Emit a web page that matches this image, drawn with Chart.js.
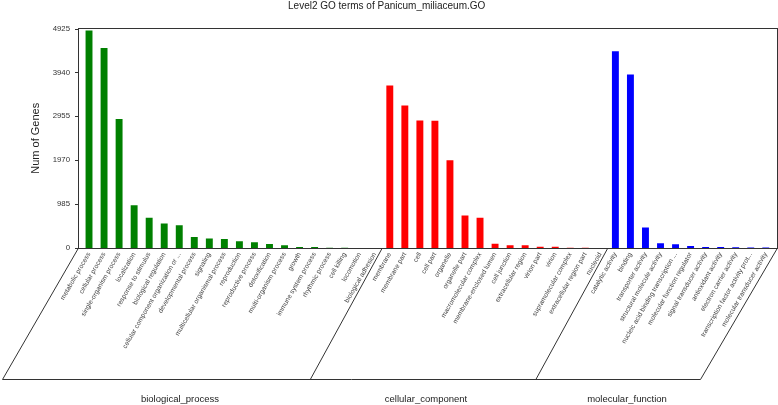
<!DOCTYPE html>
<html>
<head>
<meta charset="utf-8">
<title>Level2 GO terms of Panicum_miliaceum.GO</title>
<script src="https://cdn.jsdelivr.net/npm/chart.js@4.4.0/dist/chart.umd.min.js"></script>
<style>
  html, body { margin: 0; padding: 0; background: #fff; }
  canvas { display: block; }
</style>
</head>
<body>
<canvas id="goChart" width="778" height="405"></canvas>
<script>
// GO level-2 terms, one list per ontology
const bpLabels = ['metabolic process', 'cellular process', 'single-organism process', 'localization',
  'response to stimulus', 'biological regulation', 'cellular component organization or ...',
  'developmental process', 'signaling', 'multicellular organismal process', 'reproduction',
  'reproductive process', 'detoxification', 'multi-organism process', 'growth',
  'immune system process', 'rhythmic process', 'cell killing', 'locomotion', 'biological adhesion'];
const bpValues = [4880, 4489, 2895, 962, 677, 549, 511, 248, 211, 203, 150, 128, 90, 60, 23, 20, 6, 3, 2, 1];

const ccLabels = ['membrane', 'membrane part', 'cell', 'cell part', 'organelle', 'organelle part',
  'macromolecular complex', 'membrane-enclosed lumen', 'cell junction', 'extracellular region',
  'virion part', 'virion', 'supramolecular complex', 'extracellular region part', 'nucleoid'];
const ccValues = [3647, 3196, 2860, 2855, 1970, 729, 677, 98, 60, 60, 30, 30, 5, 3, 2];

const mfLabels = ['catalytic activity', 'binding', 'transporter activity', 'structural molecule activity',
  'nucleic acid binding transcription ...', 'molecular function regulator', 'signal transducer activity',
  'antioxidant activity', 'electron carrier activity', 'transcription factor activity prot...',
  'molecular transducer activity'];
const mfValues = [4414, 3895, 459, 105, 83, 45, 20, 20, 15, 10, 10];

const groupNames = ['biological_process', 'cellular_component', 'molecular_function'];
const groupColors = ['#008000', '#ff0000', '#0000ff'];
const yTicks = [0, 985, 1970, 2955, 3940, 4925];

const labels = bpLabels.concat(ccLabels, mfLabels);
const values = bpValues.concat(ccValues, mfValues);
const colors = bpValues.map(() => groupColors[0])
  .concat(ccValues.map(() => groupColors[1]), mfValues.map(() => groupColors[2]));

const FONT = "'Liberation Sans', Arial, sans-serif";

// frame, y tick marks, ontology parallelogram and group names
const frameAndGroups = {
  id: 'frameAndGroups',
  afterDraw(chart) {
    const ctx = chart.ctx;
    const x = chart.scales.x, y = chart.scales.y;
    const left = 78, right = 777, top = 28, bottom = 248, baseY = 379;
    ctx.save();
    ctx.strokeStyle = '#333';
    ctx.lineWidth = 1;
    ctx.strokeRect(left + 0.5, top + 0.5, right - left, bottom - top);

    ctx.beginPath();
    yTicks.forEach(v => {
      const py = Math.round(y.getPixelForValue(v)) + 0.5;
      ctx.moveTo(left - 3, py);
      ctx.lineTo(left, py);
    });
    ctx.stroke();

    const half = (x.getPixelForValue(1) - x.getPixelForValue(0)) / 2;
    const sep1 = x.getPixelForValue(bpLabels.length) - half;
    const sep2 = x.getPixelForValue(bpLabels.length + ccLabels.length) - half;
    const edges = [[left + 0.5, 76], [sep1, 72], [sep2, 72], [right + 0.5, 77]];
    ctx.beginPath();
    edges.forEach(([ex, shift]) => {
      ctx.moveTo(ex, bottom);
      ctx.lineTo(ex - shift, baseY + 0.5);
    });
    ctx.moveTo(left + 0.5 - 76, baseY + 0.5);
    ctx.lineTo(right + 0.5 - 77, baseY + 0.5);
    ctx.stroke();

    ctx.fillStyle = '#222';
    ctx.font = '9.5px ' + FONT;
    ctx.textAlign = 'center';
    ctx.textBaseline = 'middle';
    const labelX = [180, 426, 627];
    groupNames.forEach((g, i) => ctx.fillText(g, labelX[i], 399));
    ctx.restore();
  }
};

new Chart(document.getElementById('goChart'), {
  type: 'bar',
  data: {
    labels: labels,
    datasets: [{
      data: values,
      backgroundColor: colors,
      borderWidth: 0,
      categoryPercentage: 1,
      barPercentage: 0.46
    }]
  },
  options: {
    responsive: false,
    animation: false,
    layout: { padding: { left: 0, right: 4.7, top: 0, bottom: 0 } },
    plugins: {
      legend: { display: false },
      tooltip: { enabled: false },
      title: {
        display: true,
        text: 'Level2 GO terms of Panicum_miliaceum.GO',
        color: '#222',
        font: { family: FONT, size: 10, weight: 'normal', lineHeight: 1.2 },
        padding: { top: 0, bottom: 16.5 }
      }
    },
    scales: {
      x: {
        grid: { display: false, drawTicks: false },
        border: { display: false },
        ticks: {
          autoSkip: false,
          minRotation: 60,
          maxRotation: 60,
          padding: 3,
          color: '#444',
          font: { family: FONT, size: 6.7 }
        },
        afterFit: s => { s.height = 157; }
      },
      y: {
        min: 0,
        max: 4925,
        grid: { display: false, drawTicks: false },
        border: { display: false },
        afterBuildTicks: s => { s.ticks = yTicks.map(v => ({ value: v })); },
        ticks: {
          padding: 11.5,
          color: '#333',
          font: { family: FONT, size: 7.8 },
          callback: v => String(v)
        },
        title: {
          display: true,
          text: 'Num of Genes',
          color: '#222',
          font: { family: FONT, size: 11 },
          padding: { top: 29, bottom: 0 }
        },
        afterFit: s => { s.width = 81.5; }
      }
    }
  },
  plugins: [frameAndGroups]
});
</script>
</body>
</html>
